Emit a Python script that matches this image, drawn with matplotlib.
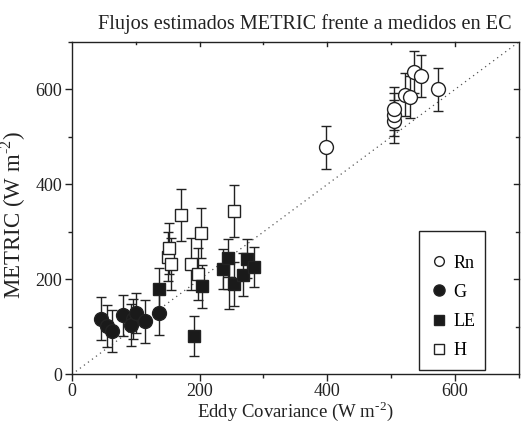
import matplotlib
matplotlib.use("Agg")
import matplotlib.pyplot as plt
from matplotlib.patches import Rectangle
from matplotlib.ticker import MultipleLocator

plt.rcParams["font.family"] = ["Liberation Serif", "DejaVu Serif"]
plt.rcParams["mathtext.fontset"] = "custom"
plt.rcParams["mathtext.rm"] = "Liberation Serif"

# Rn (open circles)
rn_x = [398, 505, 505, 505, 521, 530, 536, 546, 574]
rn_y = [478, 533, 547, 559, 589, 584, 637, 628, 600]
rn_err = [45, 45, 45, 45, 45, 45, 44, 45, 45]

# G (filled circles)
g_x = [46, 55, 63, 80, 95, 92, 101, 114, 137]
g_y = [117, 102, 92, 124, 117, 104, 129, 112, 129]
g_err = [45, 44, 44, 44, 42, 44, 42, 45, 46]

# LE (filled squares)
le_x = [136, 191, 203, 237, 245, 254, 268, 274, 285]
le_y = [180, 80, 185, 222, 245, 190, 210, 243, 226]
le_err = [43, 42, 45, 42, 41, 47, 46, 41, 43]

# H (open squares)
h_x = [150, 152, 155, 171, 186, 197, 202, 246, 254]
h_y = [248, 265, 233, 336, 233, 212, 297, 193, 344]
h_err = [52, 53, 55, 55, 55, 55, 53, 55, 55]

INK = "#222222"


def main():
    fig = plt.figure(figsize=(5.21, 4.23), dpi=100)
    ax = fig.add_axes([0.138, 0.115, 0.858, 0.786])

    ax.plot([0, 700], [0, 700], color="#555555", linestyle=(0, (1, 3)), linewidth=0.9, zorder=1)

    eb = dict(ecolor=INK, elinewidth=1.0, capsize=3.5, capthick=1.0, linestyle="none",
              markeredgecolor=INK, markeredgewidth=1.0, zorder=3)
    ax.errorbar(g_x, g_y, yerr=g_err, marker="o", markersize=10, markerfacecolor="#1a1a1a", **eb)
    ax.errorbar(h_x, h_y, yerr=h_err, marker="s", markersize=8.5, markerfacecolor="white", **eb)
    ax.errorbar(le_x, le_y, yerr=le_err, marker="s", markersize=8.5, markerfacecolor="#1a1a1a", **eb)
    ax.errorbar(rn_x, rn_y, yerr=rn_err, marker="o", markersize=10, markerfacecolor="white", **eb)

    ax.set_xlim(0, 700)
    ax.set_ylim(0, 700)
    ax.xaxis.set_major_locator(MultipleLocator(200))
    ax.xaxis.set_minor_locator(MultipleLocator(100))
    ax.yaxis.set_major_locator(MultipleLocator(200))
    ax.yaxis.set_minor_locator(MultipleLocator(100))
    ax.tick_params(which="both", direction="out", top=False, right=False,
                   labelsize=13, colors=INK, width=1.0)
    ax.tick_params(which="major", length=5, pad=2)
    ax.tick_params(axis="x", which="major", pad=1)
    ax.tick_params(which="minor", length=3)

    # inward ticks on top and right
    for t in [200, 400, 600]:
        ax.plot([t, t], [700, 700 - 8], color=INK, linewidth=1.0, clip_on=False)
        ax.plot([700, 700 - 8], [t, t], color=INK, linewidth=1.0, clip_on=False)
    for t in [100, 300, 500]:
        ax.plot([t, t], [700, 700 - 5], color=INK, linewidth=1.0, clip_on=False)
        ax.plot([700, 700 - 5], [t, t], color=INK, linewidth=1.0, clip_on=False)

    for s in ax.spines.values():
        s.set_color(INK)
        s.set_linewidth(1.0)

    ax.set_xlabel("Eddy Covariance (W m$^{\\mathregular{\u20102}}$)", fontsize=13.5, color=INK, labelpad=-1)
    ax.set_ylabel("METRIC (W m$^{\\mathregular{\u20102}}$)", fontsize=16.5, color=INK)
    ax.yaxis.set_label_coords(-0.098, 0.478)
    ax.xaxis.set_label_coords(0.5, -0.145)
    ax.xaxis.label.set_va("bottom")
    ax.set_title("Flujos estimados METRIC frente a medidos en EC", fontsize=14.6, color=INK,
                 x=0.522, pad=9)

    # legend box
    ax.add_patch(Rectangle((0.777, 0.013), 0.148, 0.417, transform=ax.transAxes,
                           facecolor="white", edgecolor=INK, linewidth=1.0, zorder=4))
    handles = [
        plt.Line2D([], [], marker="o", linestyle="none", markersize=7, markerfacecolor="white",
                   markeredgecolor=INK),
        plt.Line2D([], [], marker="o", linestyle="none", markersize=8, markerfacecolor="#1a1a1a",
                   markeredgecolor=INK),
        plt.Line2D([], [], marker="s", linestyle="none", markersize=7, markerfacecolor="#1a1a1a",
                   markeredgecolor=INK),
        plt.Line2D([], [], marker="s", linestyle="none", markersize=7, markerfacecolor="white",
                   markeredgecolor=INK),
    ]
    leg = ax.legend(handles, ["Rn", "G", "LE", "H"], loc="upper left",
                    bbox_to_anchor=(0.801, 0.360), fontsize=13, frameon=False,
                    borderpad=0, borderaxespad=0, labelspacing=0.67,
                    handletextpad=0.28, handlelength=1.0)
    leg.set_zorder(5)

    fig.savefig("out.png", dpi=100)


if __name__ == "__main__":
    main()
